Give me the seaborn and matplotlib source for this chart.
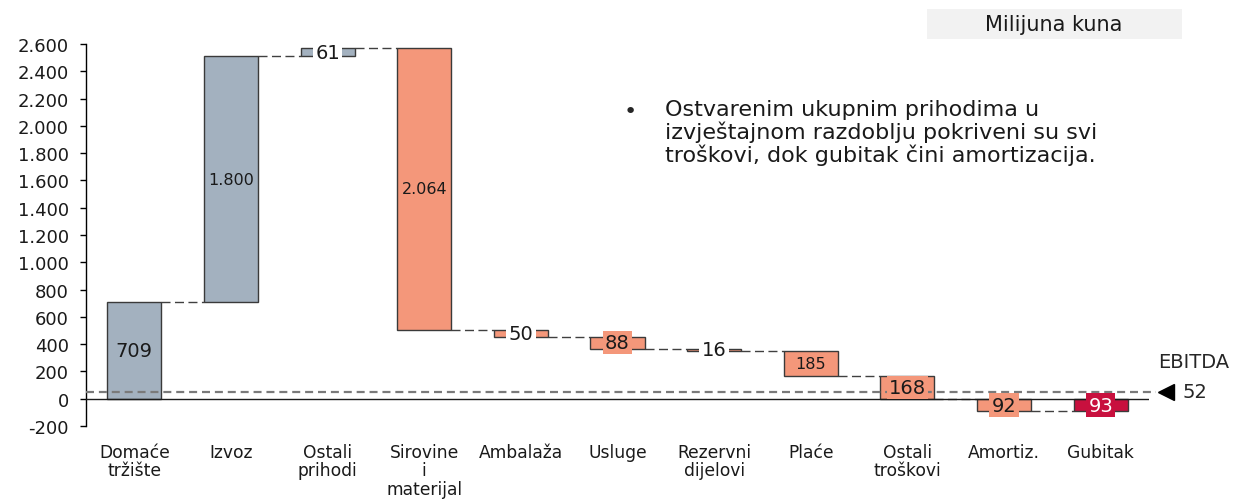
import matplotlib
matplotlib.use("Agg")
import matplotlib.pyplot as plt
import seaborn as sns
import pandas as pd
from matplotlib.patches import Rectangle

# Data (milijuna kuna)
categories = ["Domaće\ntržište", "Izvoz", "Ostali\nprihodi", "Sirovine\ni\nmaterijal",
              "Ambalaža", "Usluge", "Rezervni\ndijelovi", "Plaće", "Ostali\ntroškovi",
              "Amortiz.", "Gubitak"]
changes = [709, 1800, 61, -2064, -50, -88, -16, -185, -168, -92, -93]
kinds = ["prihod", "prihod", "prihod", "trosak", "trosak", "trosak", "trosak",
         "trosak", "trosak", "trosak", "gubitak"]
ebitda = 52
yticks = list(range(-200, 2601, 200))

# Style per bar
kind_colors = {"prihod": "#A3B1BF", "trosak": "#F4977A", "gubitak": "#C8103E"}
label_sizes = [14, 11.5, 14, 11.5, 14, 14, 14, 11.5, 14, 14, 14]
label_bg = ["bar", "bar", "white", "bar", "white", "bar", "white", "bar", "bar", "bar", "bar"]

# Waterfall starts: running total, last bar (Gubitak) is a total from zero
starts = []
level = 0
for v, k in zip(changes, kinds):
    if k == "gubitak":
        starts.append(0)
    else:
        starts.append(level)
        level += v
ends = [s + v for s, v in zip(starts, changes)]

df = pd.DataFrame({"kategorija": categories, "promjena": changes, "vrsta": kinds})
colors = [kind_colors[k] for k in kinds]

sns.set_theme(style="ticks")
plt.rcParams["font.family"] = ["DejaVu Sans"]

fig = plt.figure(figsize=(12.4, 5.02), dpi=100)
ax = fig.add_axes([86 / 1240, 1 - 427 / 502, (1149 - 86) / 1240, (427 - 45) / 502])

bar_w = 0.56
sns.barplot(data=df, x="kategorija", y="promjena", hue="kategorija", palette=colors,
            legend=False, width=bar_w, edgecolor="#3a3a3a", linewidth=1.0,
            saturation=1, ax=ax, zorder=2)

# shift each bar so it floats from its start level
for patch, s in zip(ax.patches, starts):
    patch.set_y(s)

ax.set_xlim(-0.5, 10.5)
ax.set_ylim(-200, 2600)
ax.set_yticks(yticks)
ax.set_yticklabels([f"{t:,}".replace(",", ".") for t in yticks])
ax.set_xlabel("")
ax.set_ylabel("")

# zero line and EBITDA line
ax.axhline(0, color="#1a1a1a", lw=1.0, zorder=3)
ax.plot([-0.5, 10.57], [ebitda, ebitda], ls=(0, (3.6, 2.2)), color="#7a7a7a", lw=1.6,
        zorder=3, clip_on=False)
ax.plot([10.68], [ebitda], marker="<", color="black", markersize=11, clip_on=False)
ax.text(10.85, ebitda, str(ebitda), fontsize=14, va="center", ha="left", clip_on=False)
fig.text(1194 / 1240, 1 - 362 / 502, "EBITDA", fontsize=14, ha="center", va="center")

# connectors between bars
for i in range(len(changes) - 1):
    ax.plot([i + bar_w / 2, i + 1 - bar_w / 2], [ends[i], ends[i]],
            ls=(0, (6.5, 3.2)), color="#404040", lw=1.0, zorder=1)

# value labels
for i, (s, v) in enumerate(zip(starts, changes)):
    txt = f"{abs(v):,}".replace(",", ".")
    bg = "white" if label_bg[i] == "white" else colors[i]
    fc = "white" if kinds[i] == "gubitak" else "#1a1a1a"
    ax.text(i, s + v / 2, txt, ha="center", va="center", fontsize=label_sizes[i],
            color=fc, zorder=5,
            bbox=dict(boxstyle="square,pad=0.12", fc=bg, ec="none"))

sns.despine(ax=ax, top=True, right=True, bottom=True)
ax.spines["left"].set_color("black")
ax.spines["left"].set_linewidth(1.0)
ax.tick_params(axis="y", length=4.5, width=1, color="black", pad=8, labelsize=13,
               labelcolor="#1a1a1a", direction="out")
ax.tick_params(axis="x", length=0, pad=12, labelsize=12.3, labelcolor="#1a1a1a")
for lbl in ax.get_xticklabels():
    lbl.set_linespacing(1.05)

# unit box top right
fig.patches.append(Rectangle((927 / 1240, 1 - 40 / 502), (1182 - 927) / 1240, 30 / 502,
                             transform=fig.transFigure, fc="#F2F2F2", ec="none"))
fig.text(1054 / 1240, 1 - 25 / 502, "Milijuna kuna", fontsize=15, ha="center",
         va="center", color="#1a1a1a")

# comment text
fig.text(630 / 1240, 1 - 112 / 502, "•", fontsize=16, ha="center", va="center")
fig.text(665 / 1240, 1 - 100 / 502,
         "Ostvarenim ukupnim prihodima u\nizvještajnom razdoblju pokriveni su svi\n"
         "troškovi, dok gubitak čini amortizacija.",
         fontsize=16, ha="left", va="top", linespacing=1.08, color="#1a1a1a")

fig.savefig("out.png", dpi=100)
